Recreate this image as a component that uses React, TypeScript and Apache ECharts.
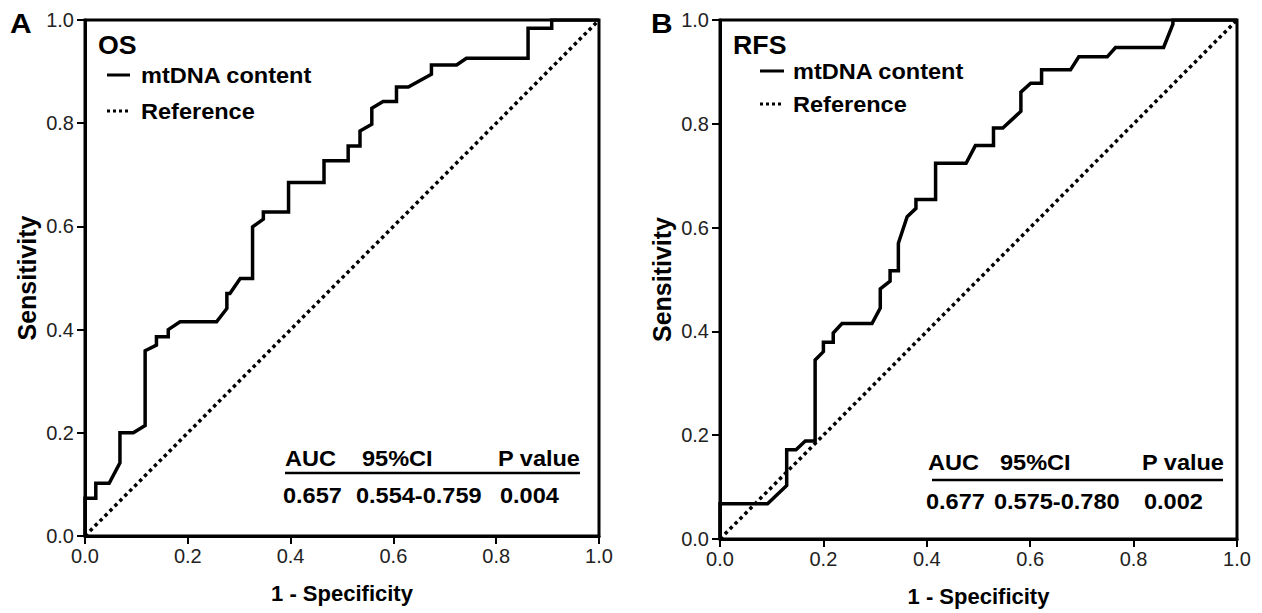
import React, { useEffect, useRef } from "react";
import * as echarts from "echarts";

// OS panel (A)
const osFpr = [0, 0, 0.021, 0.021, 0.047, 0.068, 0.068, 0.094, 0.117, 0.117, 0.139, 0.139, 0.162, 0.162, 0.185, 0.256, 0.276, 0.276, 0.282, 0.302, 0.326, 0.326, 0.347, 0.347, 0.396, 0.396, 0.465, 0.465, 0.512, 0.512, 0.535, 0.535, 0.558, 0.558, 0.58, 0.606, 0.606, 0.629, 0.674, 0.674, 0.723, 0.742, 0.862, 0.862, 0.908, 0.908, 1.0];
const osTpr = [0, 0.073, 0.073, 0.102, 0.102, 0.142, 0.2, 0.2, 0.214, 0.359, 0.37, 0.386, 0.386, 0.4, 0.415, 0.415, 0.441, 0.47, 0.47, 0.499, 0.499, 0.599, 0.614, 0.628, 0.628, 0.685, 0.685, 0.727, 0.727, 0.756, 0.756, 0.785, 0.798, 0.829, 0.842, 0.842, 0.87, 0.87, 0.895, 0.913, 0.913, 0.926, 0.926, 0.984, 0.984, 1.0, 1.0];

// RFS panel (B)
const rfsFpr = [0, 0, 0.092, 0.129, 0.129, 0.147, 0.165, 0.184, 0.184, 0.2, 0.2, 0.219, 0.219, 0.236, 0.294, 0.31, 0.31, 0.329, 0.329, 0.345, 0.345, 0.362, 0.379, 0.379, 0.417, 0.417, 0.476, 0.494, 0.529, 0.529, 0.547, 0.582, 0.582, 0.601, 0.622, 0.622, 0.678, 0.694, 0.749, 0.765, 0.858, 0.876, 0.876, 1.0];
const rfsTpr = [0, 0.068, 0.068, 0.103, 0.172, 0.172, 0.189, 0.189, 0.345, 0.361, 0.379, 0.379, 0.397, 0.415, 0.415, 0.445, 0.482, 0.497, 0.517, 0.517, 0.57, 0.621, 0.637, 0.654, 0.654, 0.724, 0.724, 0.758, 0.758, 0.792, 0.792, 0.824, 0.861, 0.878, 0.878, 0.904, 0.904, 0.929, 0.929, 0.947, 0.947, 0.992, 1.0, 1.0];

const refX = [0, 1];
const refY = [0, 1];

const panelLetters = ["A", "B"];
const panelTitles = ["OS", "RFS"];
const legendNames = ["mtDNA content", "Reference"];
const tableHeader = ["AUC", "95%CI", "P value"];
const osStats = ["0.657", "0.554-0.759", "0.004"];
const rfsStats = ["0.677", "0.575-0.780", "0.002"];
const xTitle = "1 - Specificity";
const yTitle = "Sensitivity";

const FONT = "'Liberation Sans', Arial, sans-serif";

function pairs(xs: number[], ys: number[]) {
  return xs.map((x, i) => [x, ys[i]]);
}

export default function App() {
  const ref = useRef<HTMLDivElement>(null);
  useEffect(() => {
    if (!ref.current) return;
    const chart = echarts.init(ref.current, null, { renderer: "svg" });

    const grids = [
      { left: 85, top: 20, width: 514, height: 516 },
      { left: 720, top: 20, width: 517, height: 519 },
    ];

    const mkX = (gi: number) => ({
      type: "value",
      gridIndex: gi,
      min: 0,
      max: 1,
      interval: 0.2,
      name: xTitle,
      nameLocation: "middle",
      nameGap: 46,
      nameTextStyle: { fontFamily: FONT, fontSize: 22, fontWeight: "bold", color: "#000" },
      axisLine: { show: true, lineStyle: { color: "#000", width: 3 } },
      axisTick: { show: true, length: 8, lineStyle: { color: "#000", width: 2 } },
      axisLabel: {
        margin: 10,
        fontFamily: FONT,
        fontSize: 20,
        color: "#222",
        formatter: (v: number) => v.toFixed(1),
      },
      splitLine: { show: false },
    });
    const mkY = (gi: number) => ({
      type: "value",
      gridIndex: gi,
      min: 0,
      max: 1,
      interval: 0.2,
      name: yTitle,
      nameLocation: "middle",
      nameGap: 46,
      nameTextStyle: { fontFamily: FONT, fontSize: 25, fontWeight: "bold", color: "#000" },
      axisLine: { show: true, lineStyle: { color: "#000", width: 3 } },
      axisTick: { show: true, length: 8, lineStyle: { color: "#000", width: 2 } },
      axisLabel: {
        margin: 11,
        fontFamily: FONT,
        fontSize: 20,
        color: "#222",
        formatter: (v: number) => v.toFixed(1),
      },
      splitLine: { show: false },
    });

    const curveStyle = { color: "#000", width: 3.5, join: "miter" };
    const refStyle = { color: "#000", width: 3.5, type: [3.5, 3.5], cap: "butt" };

    const bold = (size: number) => ({ fontFamily: FONT, fontSize: size, fontWeight: "bold", fill: "#000" });
    const SX = 1.07;

    const legendAndTable = (
      ox: number,
      titleY: number,
      l1y: number,
      l2y: number,
      lineX0: number,
      lineX1: number,
      textX: number,
      idx: number,
      tab: { x: number[]; y1: number; y2: number; lineY: number; lx0: number; lx1: number; stats: string[] }
    ) => [
      { type: "text", x: ox, y: titleY, scaleX: SX, style: { text: panelTitles[idx], ...bold(25), verticalAlign: "middle" } },
      { type: "line", shape: { x1: lineX0, y1: l1y, x2: lineX1, y2: l1y }, style: { stroke: "#000", lineWidth: 3 } },
      { type: "text", x: textX, y: l1y, scaleX: SX, style: { text: legendNames[0], ...bold(22), verticalAlign: "middle" } },
      { type: "line", shape: { x1: lineX0, y1: l2y, x2: lineX1, y2: l2y }, style: { stroke: "#000", lineWidth: 3, lineDash: [3, 3] } },
      { type: "text", x: textX, y: l2y, scaleX: SX, style: { text: legendNames[1], ...bold(22), verticalAlign: "middle" } },
      ...tableHeader.map((t, i) => ({
        type: "text",
        x: tab.x[i],
        y: tab.y1,
        scaleX: SX,
        style: { text: t, ...bold(22), verticalAlign: "middle" },
      })),
      { type: "line", shape: { x1: tab.lx0, y1: tab.lineY, x2: tab.lx1, y2: tab.lineY }, style: { stroke: "#000", lineWidth: 2.5 } },
      ...tab.stats.map((t, i) => ({
        type: "text",
        x: tab.x[i] + (i === 2 ? 2 : i === 1 ? -6 : -2),
        y: tab.y2,
        scaleX: SX,
        style: { text: t, ...bold(22), verticalAlign: "middle" },
      })),
    ];

    chart.setOption({
      animation: false,
      backgroundColor: "#fff",
      grid: grids.map((g) => ({
        ...g,
        outerBoundsMode: "none",
        containLabel: false,
        show: true,
        borderColor: "#000",
        borderWidth: 3,
        backgroundColor: "transparent",
      })),
      xAxis: [mkX(0), mkX(1)],
      yAxis: [mkY(0), mkY(1)],
      series: [
        { type: "line", xAxisIndex: 0, yAxisIndex: 0, data: pairs(osFpr, osTpr), showSymbol: false, lineStyle: curveStyle, z: 3 },
        { type: "line", xAxisIndex: 0, yAxisIndex: 0, data: pairs(refX, refY), showSymbol: false, lineStyle: refStyle, z: 2 },
        { type: "line", xAxisIndex: 1, yAxisIndex: 1, data: pairs(rfsFpr, rfsTpr), showSymbol: false, lineStyle: curveStyle, z: 3 },
        { type: "line", xAxisIndex: 1, yAxisIndex: 1, data: pairs(refX, refY), showSymbol: false, lineStyle: refStyle, z: 2 },
      ],
      graphic: [
        { type: "text", x: 10, y: 23, scaleX: SX, style: { text: panelLetters[0], ...bold(28), verticalAlign: "middle" } },
        { type: "text", x: 651, y: 23, scaleX: SX, style: { text: panelLetters[1], ...bold(28), verticalAlign: "middle" } },
        ...legendAndTable(98, 45, 75, 111, 107, 130, 141, 0, {
          x: [285, 362, 498],
          y1: 458,
          y2: 495,
          lineY: 473,
          lx0: 285,
          lx1: 580,
          stats: osStats,
        }),
        ...legendAndTable(733, 45, 71, 104, 760, 784, 793, 1, {
          x: [928, 1000, 1142],
          y1: 462,
          y2: 501,
          lineY: 480,
          lx0: 932,
          lx1: 1223,
          stats: rfsStats,
        }),
      ],
    });
    return () => chart.dispose();
  }, []);
  return <div ref={ref} style={{ position: "fixed", left: 0, top: 0, width: 1262, height: 613 }} />;
}
